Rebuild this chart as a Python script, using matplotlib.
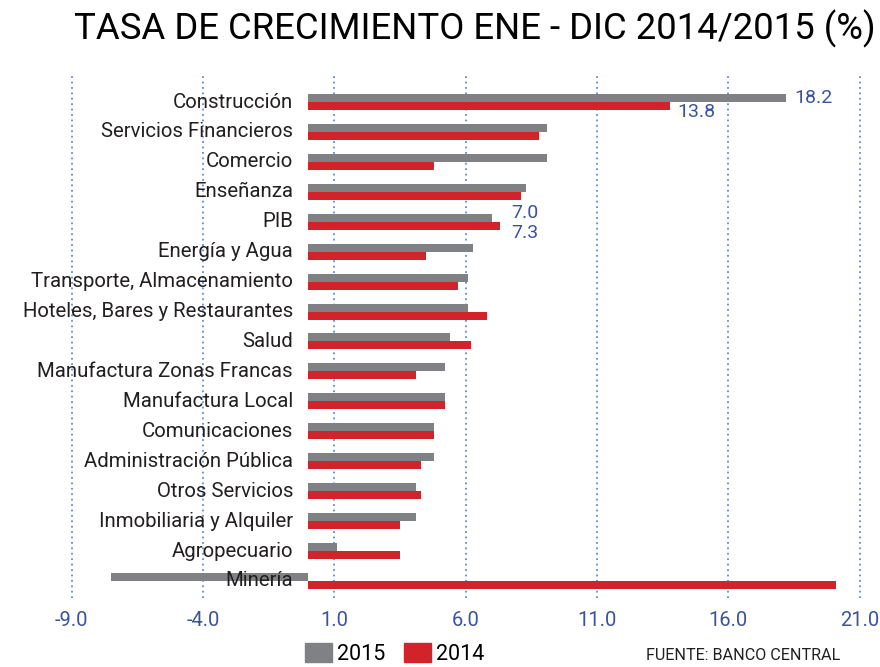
import matplotlib
matplotlib.use('Agg')
import matplotlib.pyplot as plt
import matplotlib.transforms as mtransforms
from matplotlib.patches import Patch

# data (growth rate in %)
categories = ['Construcción', 'Servicios Financieros', 'Comercio', 'Enseñanza', 'PIB',
              'Energía y Agua', 'Transporte, Almacenamiento', 'Hoteles, Bares y Restaurantes',
              'Salud', 'Manufactura Zonas Francas', 'Manufactura Local', 'Comunicaciones',
              'Administración Pública', 'Otros Servicios', 'Inmobiliaria y Alquiler',
              'Agropecuario', 'Minería']
values_2015 = [18.2, 9.1, 9.1, 8.3, 7.0, 6.3, 6.1, 6.1, 5.4, 5.2, 5.2, 4.8, 4.8, 4.1, 4.1, 1.1, -7.5]
values_2014 = [13.8, 8.8, 4.8, 8.1, 7.3, 4.5, 5.7, 6.8, 6.2, 4.1, 5.2, 4.8, 4.3, 4.3, 3.5, 3.5, 20.1]
x_ticks = [-9, -4, 1, 6, 11, 16, 21]
x_tick_labels = ['-9.0', '-4.0', '1.0', '6.0', '11.0', '16.0', '21.0']
series_labels = ['2015', '2014']

title = 'TASA DE CRECIMIENTO ENE - DIC 2014/2015 (%)'
source = 'FUENTE: BANCO CENTRAL'

GRAY = '#808184'
RED = '#d2232a'
BLUE = '#3953a4'
GRID = '#5b8ed6'
INK = '#231f20'


def main():
    plt.rcParams['font.family'] = ['Roboto', 'DejaVu Sans']

    W, H = 880, 667
    fig = plt.figure(figsize=(W / 100, H / 100), dpi=100)

    # axes box in pixels: x 60..875, y 73..598
    ax = fig.add_axes([60 / W, (H - 598) / H, 815 / W, 525 / H])
    ax.set_xlim(-9.44, 21.59)
    ax.set_ylim(16.57, -0.97)

    bar_h = 0.267
    ys = list(range(len(categories)))
    ax.barh([y - bar_h / 2 for y in ys], values_2015, height=bar_h, color=GRAY, zorder=2)
    ax.barh([y + bar_h / 2 for y in ys], values_2014, height=bar_h, color=RED, zorder=2)

    # dotted vertical grid
    ax.set_xticks(x_ticks)
    ax.set_xticklabels(x_tick_labels)
    ax.grid(axis='x', color=GRID, linestyle=(0, (1, 2)), linewidth=1.3, zorder=0)
    ax.set_axisbelow(True)
    ax.tick_params(axis='x', length=0, pad=9, labelsize=14.5, labelcolor=BLUE)
    ax.set_yticks([])
    for s in ax.spines.values():
        s.set_visible(False)

    # category labels, right aligned
    trans = mtransforms.blended_transform_factory(ax.transAxes, ax.transData)
    for y, name in zip(ys, categories):
        ax.text((293 - 60) / 815, y, name, transform=trans, ha='right', va='center',
                fontsize=14.7, color=INK, zorder=5)

    # value labels
    ax.annotate(f'{values_2015[0]:.1f}', xy=(values_2015[0], -bar_h / 2), xytext=(6, 0),
                textcoords='offset points', va='center', fontsize=14, color=BLUE)
    ax.annotate(f'{values_2014[0]:.1f}', xy=(values_2014[0], bar_h / 2), xytext=(5, -4),
                textcoords='offset points', va='center', fontsize=14, color=BLUE)
    pib = categories.index('PIB')
    x_pib = max(values_2015[pib], values_2014[pib])
    ax.annotate(f'{values_2015[pib]:.1f}', xy=(x_pib, pib + bar_h / 2), xytext=(8.5, 9),
                textcoords='offset points', va='center', fontsize=14, color=BLUE)
    ax.annotate(f'{values_2014[pib]:.1f}', xy=(x_pib, pib + bar_h / 2), xytext=(8.5, -5.4),
                textcoords='offset points', va='center', fontsize=14, color=BLUE)

    # title, legend, source
    fig.text(475 / W, 1 - 29 / H, title, ha='center', va='center', fontsize=26.3,
             fontweight='normal', color='black')

    handles = [Patch(color=GRAY), Patch(color=RED)]
    fig.legend(handles, series_labels, loc='center left', bbox_to_anchor=(305 / W, 1 - 654 / H),
               ncol=2, frameon=False, fontsize=15.5, handlelength=1.25, handleheight=0.95,
               handletextpad=0.25, columnspacing=0.85, borderpad=0, borderaxespad=0)

    fig.text(840 / W, 1 - 656 / H, source, ha='right', va='center', fontsize=11.6, color=INK)

    fig.savefig('out.png', dpi=100)


if __name__ == '__main__':
    main()
